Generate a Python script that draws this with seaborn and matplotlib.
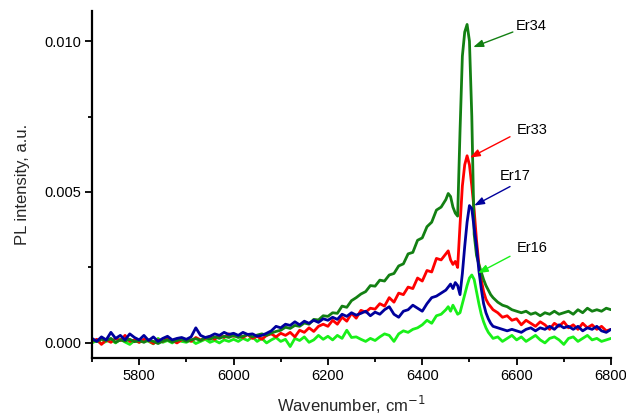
import numpy as np
import pandas as pd
import matplotlib
matplotlib.use("Agg")
import matplotlib.pyplot as plt
import seaborn as sns

# wavenumber grid (cm^-1): 10 cm^-1 steps, 5 cm^-1 steps around the peak
wavenumber = list(range(5700, 6450, 10)) + list(range(6450, 6550, 5)) + list(range(6550, 6801, 10))

# PL intensities (units of 1e-3 a.u.)
er34_m = [
    0.10, 0.05, 0.12, 0.08, 0.15, 0.02, 0.10, 0.06, 0.12, 0.04,
    0.08, 0.02, 0.10, 0.05, -0.02, 0.06, 0.10, 0.03, 0.08, 0.12,
    0.05, 0.10, 0.14, 0.08, 0.18, 0.12, 0.20, 0.15, 0.22, 0.18,
    0.25, 0.18, 0.22, 0.28, 0.20, 0.26, 0.30, 0.25, 0.33, 0.38,
    0.42, 0.52, 0.48, 0.58, 0.55, 0.66, 0.62, 0.78, 0.76, 0.90,
    0.88, 1.00, 0.98, 1.22, 1.18, 1.40, 1.50, 1.62, 1.70, 1.90,
    1.88, 2.08, 2.05, 2.25, 2.30, 2.55, 2.62, 2.95, 3.00, 3.40,
    3.48, 3.85, 4.00, 4.40, 4.50,
    4.75, 4.95, 4.85, 4.50, 4.30, 4.20, 7.00, 9.50, 10.30, 10.55,
    10.00, 7.50, 3.60, 2.90, 2.60, 2.35, 2.10, 1.90, 1.75, 1.60,
    1.50, 1.35, 1.25, 1.20, 1.10, 1.05, 1.00, 1.05, 0.95, 1.00,
    0.90, 1.00, 0.95, 1.05, 0.95, 1.00, 1.05, 0.95, 1.10, 1.00,
    1.15, 1.05, 1.10, 1.05, 1.15, 1.10,
]
er33_m = [
    0.05, 0.12, -0.05, 0.10, 0.02, 0.15, 0.08, 0.25, 0.05, 0.10,
    0.02, 0.12, 0.08, -0.02, 0.10, 0.05, 0.15, 0.08, 0.00, 0.10,
    0.12, 0.05, 0.18, 0.10, 0.15, 0.22, 0.12, 0.25, 0.18, 0.30,
    0.22, 0.25, 0.18, 0.28, 0.15, 0.22, 0.12, 0.25, 0.30, 0.20,
    0.32, 0.25, 0.35, 0.20, 0.42, 0.35, 0.50, 0.38, 0.55, 0.62,
    0.55, 0.75, 0.62, 0.85, 0.72, 0.98, 0.82, 1.08, 1.02, 1.15,
    1.12, 1.30, 1.22, 1.50, 1.35, 1.65, 1.60, 1.85, 1.80, 2.15,
    2.05, 2.40, 2.35, 2.80, 2.75,
    2.95, 3.05, 2.75, 2.60, 2.70, 2.50, 3.90, 5.20, 5.90, 6.20,
    5.90, 5.20, 4.40, 3.40, 2.60, 2.10, 1.70, 1.45, 1.30, 1.20,
    1.10, 1.00, 0.85, 0.90, 0.75, 0.80, 0.60, 0.75, 0.65, 0.55,
    0.70, 0.60, 0.45, 0.65, 0.55, 0.70, 0.50, 0.60, 0.45, 0.65,
    0.50, 0.60, 0.45, 0.55, 0.40, 0.45,
]
er17_m = [
    0.15, 0.05, 0.20, 0.10, 0.35, 0.15, 0.25, 0.10, 0.30, 0.18,
    0.10, 0.25, 0.08, 0.20, 0.05, 0.15, 0.22, 0.10, 0.15, 0.18,
    0.12, 0.20, 0.50, 0.25, 0.18, 0.22, 0.30, 0.25, 0.35, 0.28,
    0.32, 0.25, 0.35, 0.28, 0.30, 0.22, 0.25, 0.32, 0.40, 0.55,
    0.50, 0.62, 0.58, 0.70, 0.60, 0.72, 0.65, 0.75, 0.68, 0.80,
    0.75, 0.85, 0.78, 0.95, 0.88, 1.00, 0.92, 0.98, 1.05, 0.90,
    1.02, 0.95, 1.10, 1.20, 0.95, 0.85, 1.05, 1.10, 1.25, 1.15,
    1.05, 1.30, 1.50, 1.55, 1.65,
    1.75, 1.85, 1.95, 1.80, 2.00, 1.90, 1.60, 2.30, 3.20, 4.00,
    4.55, 4.45, 3.80, 3.20, 2.40, 1.80, 1.30, 1.00, 0.80, 0.65,
    0.55, 0.50, 0.45, 0.40, 0.45, 0.40, 0.35, 0.45, 0.50, 0.40,
    0.50, 0.45, 0.55, 0.45, 0.60, 0.50, 0.55, 0.45, 0.55, 0.40,
    0.50, 0.45, 0.55, 0.40, 0.35, 0.45,
]
er16_m = [
    0.00, 0.08, -0.02, 0.05, 0.10, 0.00, 0.12, 0.03, -0.05, 0.08,
    0.02, 0.10, 0.05, -0.03, 0.15, 0.02, 0.08, 0.00, 0.12, 0.05,
    0.02, 0.10, -0.02, 0.05, 0.12, 0.02, 0.08, 0.00, 0.10, 0.05,
    0.12, 0.05, 0.15, 0.08, 0.20, 0.05, 0.15, 0.00, 0.10, 0.18,
    0.05, 0.12, -0.12, 0.15, 0.08, 0.20, 0.02, 0.10, 0.25, 0.12,
    0.22, 0.10, 0.25, 0.15, 0.42, 0.18, 0.20, 0.12, 0.05, 0.15,
    0.08, 0.20, 0.30, 0.25, 0.05, 0.30, 0.40, 0.35, 0.45, 0.50,
    0.60, 0.75, 0.65, 0.90, 0.95,
    1.10, 1.20, 1.05, 1.25, 1.10, 0.95, 1.00, 1.30, 1.60, 1.90,
    2.15, 2.25, 2.10, 1.70, 1.30, 0.95, 0.70, 0.50, 0.35, 0.25,
    0.15, 0.20, 0.05, 0.15, 0.25, 0.10, 0.20, 0.05, 0.15, 0.25,
    0.10, 0.00, 0.15, 0.20, 0.10, -0.05, 0.15, 0.20, 0.05, 0.15,
    0.25, 0.10, 0.15, 0.05, 0.10, 0.15,
]

series_names = ["Er16", "Er33", "Er34", "Er17"]
series_values = [er16_m, er33_m, er34_m, er17_m]
colors = {"Er34": "#138013", "Er33": "#ff0000", "Er17": "#00009c", "Er16": "#19f019"}

# annotation positions: (label x, label y, arrow tail x, tail y, head x, head y)
labels = ["Er34", "Er33", "Er17", "Er16"]
label_xy = [(6599, 0.0105), (6601, 0.00706), (6565, 0.00554), (6601, 0.00313)]
arrow_tail = [(6592, 0.0103), (6586, 0.00683), (6586, 0.00518), (6586, 0.00287)]
arrow_head = [(6508, 0.0098), (6501, 0.00614), (6510, 0.00455), (6518, 0.00231)]

frames = []
for name, vals in zip(series_names, series_values):
    frames.append(pd.DataFrame({"wavenumber": wavenumber,
                                "intensity": np.array(vals) * 1e-3,
                                "sample": name}))
df = pd.concat(frames, ignore_index=True)

sns.set_style("ticks")
plt.rcParams["font.family"] = ["Liberation Sans", "DejaVu Sans"]

fig = plt.figure(figsize=(6.26, 4.18), dpi=100)
ax = fig.add_axes([0.147, 0.1435, 0.829, 0.8305])

sns.lineplot(data=df, x="wavenumber", y="intensity", hue="sample",
             hue_order=series_names, palette=colors, linewidth=2.0,
             legend=False, ax=ax, estimator=None, sort=False)

ax.set_xlim(5700, 6800)
ax.set_ylim(-0.0005, 0.011)
ax.set_xticks([5800, 6000, 6200, 6400, 6600, 6800])
ax.set_xticks(np.arange(5700, 6801, 100), minor=True)
ax.set_yticks([0.0, 0.005, 0.010])
ax.set_yticks([0.0025, 0.0075], minor=True)
ax.set_yticklabels(["0.000", "0.005", "0.010"])
ax.tick_params(axis="both", which="major", direction="out", length=5, width=1.3,
               labelsize=10.5, color="black", labelcolor="black", pad=3)
ax.tick_params(axis="both", which="minor", direction="out", length=3, width=1.3,
               color="black")
for side in ["left", "bottom"]:
    ax.spines[side].set_linewidth(1.6)
    ax.spines[side].set_color("black")
ax.spines["top"].set_visible(False)
ax.spines["right"].set_visible(False)

ax.set_xlabel("Wavenumber, cm$^{-1}$", fontsize=12, labelpad=8)
ax.set_ylabel("PL intensity, a.u.", fontsize=12, labelpad=10)

for lab, (lx, ly), (tx, ty), (hx, hy) in zip(labels, label_xy, arrow_tail, arrow_head):
    ax.text(lx, ly, lab, fontsize=10.5, ha="left", va="center", color="black")
    ax.annotate("", xy=(hx, hy), xytext=(tx, ty),
                arrowprops=dict(arrowstyle="-|>,head_length=0.6,head_width=0.22",
                                color=colors[lab], lw=1.0, shrinkA=0, shrinkB=0))

fig.savefig("out.png", dpi=100)
